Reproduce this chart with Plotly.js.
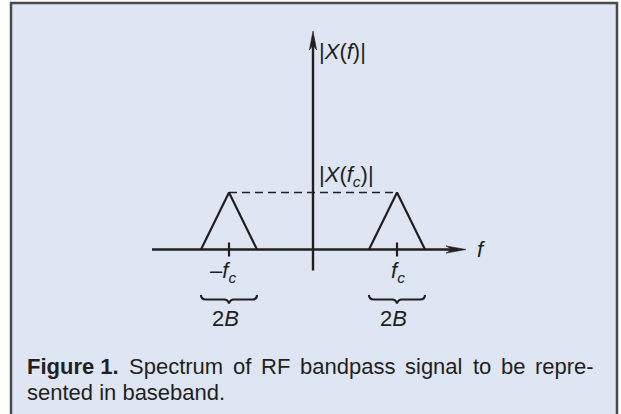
<!DOCTYPE html>
<html>
<head>
<meta charset="utf-8">
<script src="https://cdn.plot.ly/plotly-3.0.1.min.js"></script>
<style>
  html, body { margin: 0; padding: 0; background: #ffffff; }
  #chart { width: 621px; height: 414px; }
</style>
</head>
<body>
<div id="chart"></div>
<script>
// Magnitude spectrum of an RF bandpass signal.
// Frequencies are in units of the half bandwidth B, magnitudes in units of |X(fc)|.
const negBandFreq = [-4, -3, -2];      // -fc-B, -fc, -fc+B
const posBandFreq = [2, 3, 4];         // fc-B, fc, fc+B
const bandMagnitude = [0, 1, 0];
const carrierFreqs = [-3, 3];          // -fc, fc
const peakLevel = [1, 1];              // |X(fc)| at both carriers
const halfBandwidth = 1;               // B
const carrierLabels = ['–<i>f<sub>c</sub></i>', '<i>f<sub>c</sub></i>'];
const bandwidthLabels = ['2<i>B</i>', '2<i>B</i>'];
const captionWords = ['Figure 1.', 'Spectrum', 'of', 'RF', 'bandpass', 'signal', 'to', 'be', 'repre-'];
const captionLine2 = 'sented in baseband.';

// ---- page geometry (pixels) ----
const W = 621, H = 414;
const originX = 313, originY = 249.5;   // where the two axes cross
const pxPerF = 28, pxPerMag = 57;
const ink = '#231f20';
const FONT = '"Liberation Sans", Arial, Helvetica, sans-serif';

const xRange = [-originX / pxPerF, (W - originX) / pxPerF];
const yRange = [-(H - originY) / pxPerMag, originY / pxPerMag];
const fx = px => (px - originX) / pxPerF;       // page x -> frequency
const my = py => (originY - py) / pxPerMag;     // page y -> magnitude

const fAxisStart = fx(152), fAxisTip = fx(466);
const magAxisBottom = my(270.5), magAxisTip = my(31);
const braceLevel = my(299.5);

// ---- traces ----
const traces = [
  { // dashed reference level joining the two peaks
    x: carrierFreqs, y: peakLevel, mode: 'lines', hoverinfo: 'skip',
    line: { color: ink, width: 1.4, dash: '8px,5px' }
  },
  {
    x: negBandFreq, y: bandMagnitude, mode: 'lines', hoverinfo: 'skip',
    line: { color: ink, width: 2.2 }
  },
  {
    x: posBandFreq, y: bandMagnitude, mode: 'lines', hoverinfo: 'skip',
    line: { color: ink, width: 2.2 }
  }
];

// ---- shapes: frame, axes, arrowheads, ticks, braces ----
const shapes = [
  { type: 'rect', xref: 'paper', yref: 'paper', layer: 'below',
    x0: 11 / W, x1: 617 / W, y0: 1 - 3 / H, y1: -0.05,
    line: { color: '#4a4a4a', width: 2.5 }, fillcolor: '#dfe6f3' },
  // frequency axis
  { type: 'line', xref: 'x', yref: 'y', layer: 'below',
    x0: fAxisStart, x1: fAxisTip - 10 / pxPerF, y0: 0, y1: 0,
    line: { color: ink, width: 2.6 } },
  // magnitude axis
  { type: 'line', xref: 'x', yref: 'y', layer: 'below',
    x0: 0, x1: 0, y0: magAxisBottom, y1: magAxisTip - 10 / pxPerMag,
    line: { color: ink, width: 2.4 } },
  // arrowheads
  { type: 'path', xref: 'x', yref: 'y', xsizemode: 'pixel', ysizemode: 'pixel',
    xanchor: fAxisTip, yanchor: 0,
    path: 'M0,0 L-20,3.6 L-14,0 L-20,-3.6 Z',
    fillcolor: ink, line: { color: ink, width: 0.6 } },
  { type: 'path', xref: 'x', yref: 'y', xsizemode: 'pixel', ysizemode: 'pixel',
    xanchor: 0, yanchor: magAxisTip,
    path: 'M0,0 L3.6,-19 L0,-14 L-3.6,-19 Z',
    fillcolor: ink, line: { color: ink, width: 0.6 } }
];

carrierFreqs.forEach(c => {
  // tick at the carrier
  shapes.push({ type: 'line', xref: 'x', yref: 'y', ysizemode: 'pixel', yanchor: 0,
    x0: c, x1: c, y0: -7, y1: 7, line: { color: ink, width: 2.2 } });
  // horizontal curly brace spanning 2B under the carrier
  const xl = c - halfBandwidth, xr = c + halfBandwidth;
  const k = 5 / pxPerF, m = 5 / pxPerF, t = 1 / pxPerF;
  const path = `M${xl},4.5 Q${xl},0 ${xl + k},0 L${c - m},0 Q${c - t},0 ${c},-4 ` +
               `Q${c + t},0 ${c + m},0 L${xr - k},0 Q${xr},0 ${xr},4.5`;
  shapes.push({ type: 'path', xref: 'x', yref: 'y', ysizemode: 'pixel', yanchor: braceLevel,
    path: path, line: { color: ink, width: 2.2 } });
});

// ---- annotations ----
const txt = (extra) => Object.assign({ showarrow: false, borderpad: 0, borderwidth: 0,
  font: { family: FONT, size: 22, color: ink } }, extra);

const annotations = [
  txt({ text: '|<i>X</i>(<i>f</i>)|', xref: 'x', yref: 'y', x: 0, y: my(51),
        xanchor: 'left', yanchor: 'middle', xshift: 6 }),
  txt({ text: '|<i>X</i>(<i>f<sub>c</sub></i>)|', xref: 'x', yref: 'y', x: 0, y: my(176),
        xanchor: 'left', yanchor: 'middle', xshift: 6 }),
  txt({ text: '<i>f</i>', xref: 'x', yref: 'y', x: fx(481), y: 0,
        xanchor: 'center', yanchor: 'middle' })
];

carrierFreqs.forEach((c, i) => {
  annotations.push(txt({ text: carrierLabels[i], xref: 'x', yref: 'y', x: c, y: my(272),
    xanchor: 'center', yanchor: 'middle', xshift: i === 0 ? -6 : 1 }));
  annotations.push(txt({ text: bandwidthLabels[i], xref: 'x', yref: 'y', x: c, y: my(318),
    xanchor: 'center', yanchor: 'middle', xshift: -4 }));
});

// caption: first line fully justified between the text margins
const ctx = document.createElement('canvas').getContext('2d');
const measure = (s, bold) => {
  ctx.font = (bold ? 'bold ' : '') + '22px "Liberation Sans"';
  return ctx.measureText(s).width;
};
const capLeft = 27, capRight = 594;
const widths = captionWords.map((w, i) => measure(w, i === 0));
const gap = (capRight - capLeft - widths.reduce((a, b) => a + b, 0)) / (captionWords.length - 1);
let cx = capLeft;
captionWords.forEach((w, i) => {
  annotations.push(txt({ text: i === 0 ? '<b>' + w + '</b>' : w, xref: 'paper', yref: 'paper',
    x: cx / W, y: 1 - 366 / H, xanchor: 'left', yanchor: 'middle' }));
  cx += widths[i] + gap;
});
annotations.push(txt({ text: captionLine2, xref: 'paper', yref: 'paper',
  x: capLeft / W, y: 1 - 392 / H, xanchor: 'left', yanchor: 'middle' }));

const layout = {
  width: W, height: H,
  margin: { l: 0, r: 0, t: 0, b: 0, pad: 0 },
  paper_bgcolor: '#ffffff', plot_bgcolor: 'rgba(0,0,0,0)',
  showlegend: false,
  xaxis: { range: xRange, visible: false, fixedrange: true },
  yaxis: { range: yRange, visible: false, fixedrange: true },
  shapes: shapes,
  annotations: annotations
};

Plotly.newPlot('chart', traces, layout, { staticPlot: true, displayModeBar: false });
</script>
</body>
</html>
